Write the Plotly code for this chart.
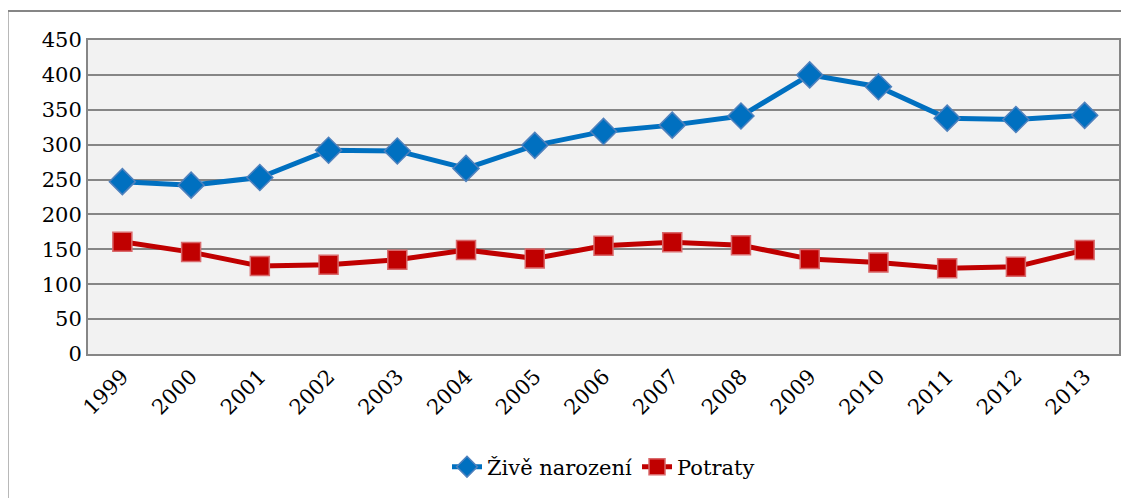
import plotly.graph_objects as go

years = ["1999", "2000", "2001", "2002", "2003", "2004", "2005", "2006",
         "2007", "2008", "2009", "2010", "2011", "2012", "2013"]
zive_narozeni = [247, 242, 253, 292, 291, 266, 299, 319, 328, 341, 400, 383, 338, 336, 342]
potraty = [161, 146, 126, 128, 135, 149, 137, 155, 160, 156, 136, 131, 123, 125, 149]

font_family = "DejaVu Serif"

fig = go.Figure()
fig.add_trace(go.Scatter(
    x=years, y=zive_narozeni, name="Živě narození", mode="lines+markers",
    line=dict(color="#0070c0", width=5),
    marker=dict(symbol="diamond", size=20, color="#0070c0",
                line=dict(color="#4f81bd", width=1.5)),
))
fig.add_trace(go.Scatter(
    x=years, y=potraty, name="Potraty", mode="lines+markers",
    line=dict(color="#c00000", width=5),
    marker=dict(symbol="square", size=19, color="#c00000",
                line=dict(color="#d9696b", width=1.5)),
))

fig.update_layout(
    template="none",
    width=1121, height=490,
    margin=dict(l=80, r=10, t=32, b=144),
    paper_bgcolor="white",
    plot_bgcolor="#f2f2f2",
    font=dict(family=font_family, size=21, color="#000001"),
    showlegend=True,
    legend=dict(orientation="h", x=0.5, xanchor="center", y=-0.36, yanchor="middle",
                font=dict(family=font_family, size=21, color="#000001"), bgcolor="rgba(0,0,0,0)"),
    xaxis=dict(
        type="category", tickangle=-45, showgrid=False, ticks="",
        showline=True, linecolor="#868686", linewidth=2, mirror=True,
        tickfont=dict(family=font_family, size=21, color="#000001"), range=[-0.5, 14.5],
    ),
    yaxis=dict(
        range=[0, 450], dtick=50, showgrid=True, gridcolor="#868686", gridwidth=2,
        showline=True, linecolor="#868686", linewidth=2, mirror=True,
        ticks="", tickfont=dict(family=font_family, size=21, color="#000001"), zeroline=False,
    ),
    shapes=[dict(
        type="rect", xref="paper", yref="paper",
        x0=-0.078, x1=1.05, y0=-0.47, y1=1.092,
        line=dict(color="#868686", width=2), fillcolor="rgba(0,0,0,0)", layer="below",
    )],
)

fig.write_html("out.html")
